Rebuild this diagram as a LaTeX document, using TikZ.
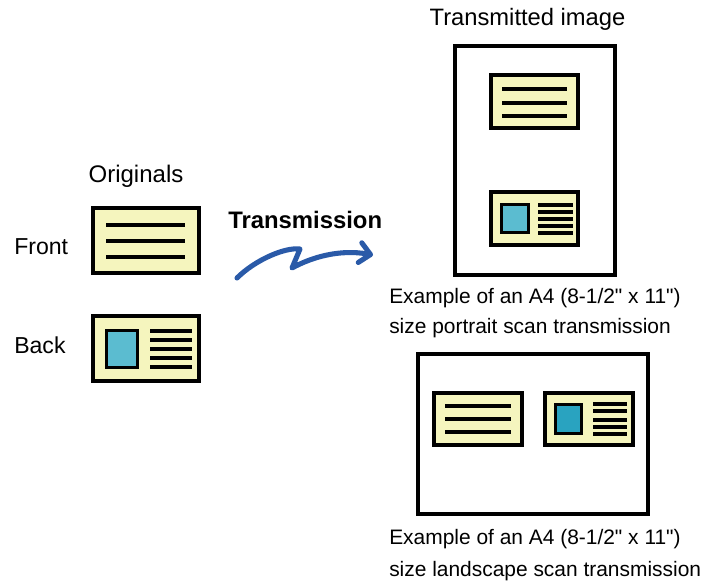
\documentclass[tikz,border=0pt]{standalone}
\usepackage{fontspec}
\setmainfont{Liberation Sans}[Ligatures=TeXReset]
\usetikzlibrary{arrows.meta}
\definecolor{cardfill}{HTML}{F5F5BE}
\definecolor{photo}{HTML}{5BBCD0}
\definecolor{photodark}{HTML}{29A3C0}
\definecolor{arrowblue}{HTML}{2A5AA8}

\begin{document}
\begin{tikzpicture}[x=0.75pt,y=-0.75pt,
  card/.style={draw,line width=3pt,fill=cardfill},
  photobox/.style={draw,line width=2.6pt,fill=photo},
  page/.style={draw,line width=2.6pt},
  txtline/.style={line width=2.3pt},
  lbl/.style={inner sep=0pt,font=\fontsize{17.3}{20}\selectfont},
  note/.style={inner sep=0pt,align=left,font=\fontsize{15.7}{22.5}\selectfont}]
  \useasboundingbox (0,0) rectangle (703,582);
  % originales: anverso y reverso
  \node[lbl,anchor=base,font=\fontsize{18}{20}\selectfont] (orig) at (136,182) {Originals};
  \node[lbl,anchor=base west] (front) at (14,254) {Front};
  \node[lbl,anchor=base west] (back) at (14,353) {Back};
  \draw[card] (93,208) rectangle (199,273);
  \foreach \y in {225,241,257} \draw[txtline] (106,\y) -- (185,\y);
  \draw[card] (93,316) rectangle (199,381);
  \draw[photobox] (106.5,330.5) rectangle (137.5,367.5);
  \foreach \y in {331,340,349,358,367} \draw[txtline] (150,\y) -- (192,\y);
  % flecha de transmision
  \node[lbl,anchor=base west,font=\fontsize{17.9}{20}\selectfont\bfseries] (trans) at (228,228) {Transmission};
  \coordinate (arrS) at (237,278);
  \coordinate (arrP) at (300,249);
  \coordinate (arrK) at (292,268);
  \coordinate (arrE) at (373,255);
  \draw[arrowblue,line width=3.8pt,line cap=round,line join=round,-{Straight Barb[round,length=8pt,width=15pt]}]
    (arrS) .. controls (255,260) and (285,247) .. (arrP) -- (arrK)
    .. controls (312,257) and (340,249) .. (arrE);
  % imagen transmitida, vertical
  \node[lbl,anchor=base,font=\fontsize{17.8}{20}\selectfont] (timg) at (527.5,25) {Transmitted image};
  \draw[page] (455,46) rectangle (615,275);
  \draw[card] (491,75) rectangle (578,128);
  \foreach \y in {89,103,116} \draw[txtline] (502,\y) -- (567,\y);
  \draw[card] (491,192) rectangle (578,245);
  \draw[photobox] (501.5,204.5) rectangle (528.5,232.5);
  \foreach \y in {205,212,219,226,233} \draw[txtline] (538,\y) -- (573,\y);
  \node[note,anchor=base west] (portr) at (389,333) {Example of an A4 (8-1/2" x 11")\\size portrait scan transmission};
  % imagen transmitida, horizontal
  \draw[page] (418,354) rectangle (648,514);
  \draw[card] (434,393) rectangle (522,445);
  \foreach \y in {406,419,432} \draw[txtline] (445,\y) -- (511,\y);
  \draw[card] (545,393) rectangle (633,445);
  \draw[photobox,fill=photodark] (555.5,404.5) rectangle (581.5,433.5);
  \foreach \y in {404,411,420,427,434} \draw[txtline] (593,\y) -- (627,\y);
  \node[note,anchor=base west,font=\fontsize{15.7}{23.6}\selectfont] (lands) at (389,576) {Example of an A4 (8-1/2" x 11")\\size landscape scan transmission};
\end{tikzpicture}
\end{document}
